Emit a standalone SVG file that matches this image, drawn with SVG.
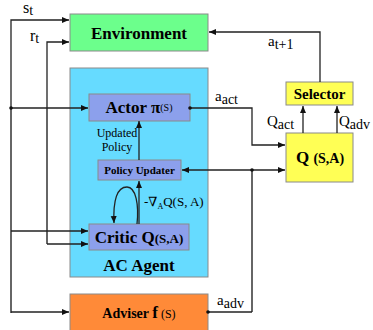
<svg xmlns="http://www.w3.org/2000/svg" width="373" height="330" viewBox="0 0 373 330" font-family="'Liberation Serif', 'DejaVu Serif', serif">
<defs>
<style>
.box{stroke:#8a8a8a;stroke-width:1}
.ln{fill:none;stroke:#222;stroke-width:1.3}
.gl{fill:none;stroke:#666;stroke-width:2}
text{font-family:'Liberation Serif','DejaVu Serif',serif;fill:#000}
.b{font-weight:bold}
</style>
<marker id="ah" markerWidth="8" markerHeight="8" refX="7" refY="4" orient="auto" markerUnits="userSpaceOnUse">
<path d="M0,1 L7,4 L0,7 Z" fill="#111"/>
</marker>
</defs>
<g id="agent"><rect class="box" x="70" y="68" width="138" height="209" fill="#66DBFF"/>
<text class="b" x="139" y="271" font-size="17" text-anchor="middle">AC Agent</text></g>
<g id="environment"><rect class="box" x="70" y="14" width="138" height="37" fill="#6CFF8C"/>
<text class="b" x="139" y="39" font-size="17" text-anchor="middle">Environment</text></g>
<g id="actor"><rect class="box" x="89" y="94" width="101" height="27" fill="#8CA0EC"/>
<text x="139" y="113" text-anchor="middle"><tspan class="b" font-size="17">Actor π</tspan><tspan font-size="10" dy="-2">(S)</tspan></text></g>
<g id="policy"><rect class="box" x="98" y="160" width="83" height="20" fill="#8CA0EC"/>
<text class="b" x="139.5" y="174" font-size="11" text-anchor="middle">Policy Updater</text></g>
<g id="critic"><rect class="box" x="89" y="224" width="100" height="26" fill="#8CA0EC"/>
<text class="b" x="139" y="243" text-anchor="middle"><tspan font-size="17">Critic Q</tspan><tspan font-size="13">(S,A)</tspan></text></g>
<g id="selector"><rect class="box" x="286" y="82" width="67" height="23" fill="#FFFF55"/>
<text class="b" x="319.5" y="99" font-size="15" text-anchor="middle">Selector</text></g>
<g id="q"><rect class="box" x="286" y="133" width="67" height="49" fill="#FFFF55"/>
<text class="b" x="320" y="163" text-anchor="middle"><tspan font-size="17">Q </tspan><tspan font-size="14">(S,A)</tspan></text></g>
<g id="adviser"><rect class="box" x="70" y="294" width="138" height="40" fill="#FF8A38"/>
<text x="139" y="318" text-anchor="middle"><tspan class="b" font-size="14">Adviser </tspan><tspan class="b" font-size="17">f</tspan><tspan font-size="12"> (S)</tspan></text></g>
<g id="connectors">
<path class="gl" d="M11,108 V313"/>
<path class="gl" d="M47,244 V108"/>
<path class="gl" d="M252,170 V312"/>
<path class="ln" d="M11,108 V20 H69" marker-end="url(#ah)"/>
<path class="ln" d="M11,108 H88" marker-end="url(#ah)"/>
<path class="ln" d="M11,231 H88" marker-end="url(#ah)"/>
<path class="ln" d="M11,312 H69" marker-end="url(#ah)"/>
<path class="ln" d="M47,108 V42 H69" marker-end="url(#ah)"/>
<path class="ln" d="M47,244 H88" marker-end="url(#ah)"/>
<path class="ln" d="M190,108 H252 V145 H285" marker-end="url(#ah)"/>
<path class="ln" d="M252,170 H182" marker-end="url(#ah)"/>
<path class="ln" d="M252,170 H285" marker-end="url(#ah)"/>
<path class="ln" d="M252,312 H208"/>
<path class="ln" d="M320,82 V32 H209" marker-end="url(#ah)"/>
<path class="ln" d="M303,133 V106" marker-end="url(#ah)"/>
<path class="ln" d="M337,133 V106" marker-end="url(#ah)"/>
<path class="ln" d="M139,160 V121" marker-end="url(#ah)"/>
<path class="ln" d="M139,224 V181" marker-end="url(#ah)"/>
<path class="ln" d="M137,224 C139,205 136,187 127,187 C117,187 113,200 114,223" marker-end="url(#ah)"/>
<circle cx="11" cy="108" r="1.8" fill="#111"/>
<circle cx="190" cy="108" r="1.8" fill="#111"/>
<circle cx="252" cy="170" r="1.8" fill="#111"/>
<circle cx="208" cy="312" r="1.8" fill="#111"/>
</g>
<g id="labels">
<text x="23" y="13" font-size="16">s<tspan font-size="14" dy="2">t</tspan></text>
<text x="30" y="41" font-size="16">r<tspan font-size="14" dy="2">t</tspan></text>
<text x="268" y="46" font-size="15">a<tspan font-size="14" dy="3">t+1</tspan></text>
<text x="215" y="101" font-size="15">a<tspan font-size="14" dy="3">act</tspan></text>
<text x="267" y="126" font-size="15">Q<tspan font-size="14" dy="3">act</tspan></text>
<text x="339" y="126" font-size="15">Q<tspan font-size="14" dy="3">adv</tspan></text>
<text x="217" y="305" font-size="15">a<tspan font-size="14" dy="3">adv</tspan></text>
<text x="117" y="137" font-size="12" fill="#333" text-anchor="middle">Updated</text>
<text x="117" y="151" font-size="12" fill="#333" text-anchor="middle">Policy</text>
<text x="144" y="206" font-size="13"><tspan>-∇</tspan><tspan font-size="8" dy="3">A</tspan><tspan dy="-3">Q(S, A)</tspan></text>
</g>
</svg>
